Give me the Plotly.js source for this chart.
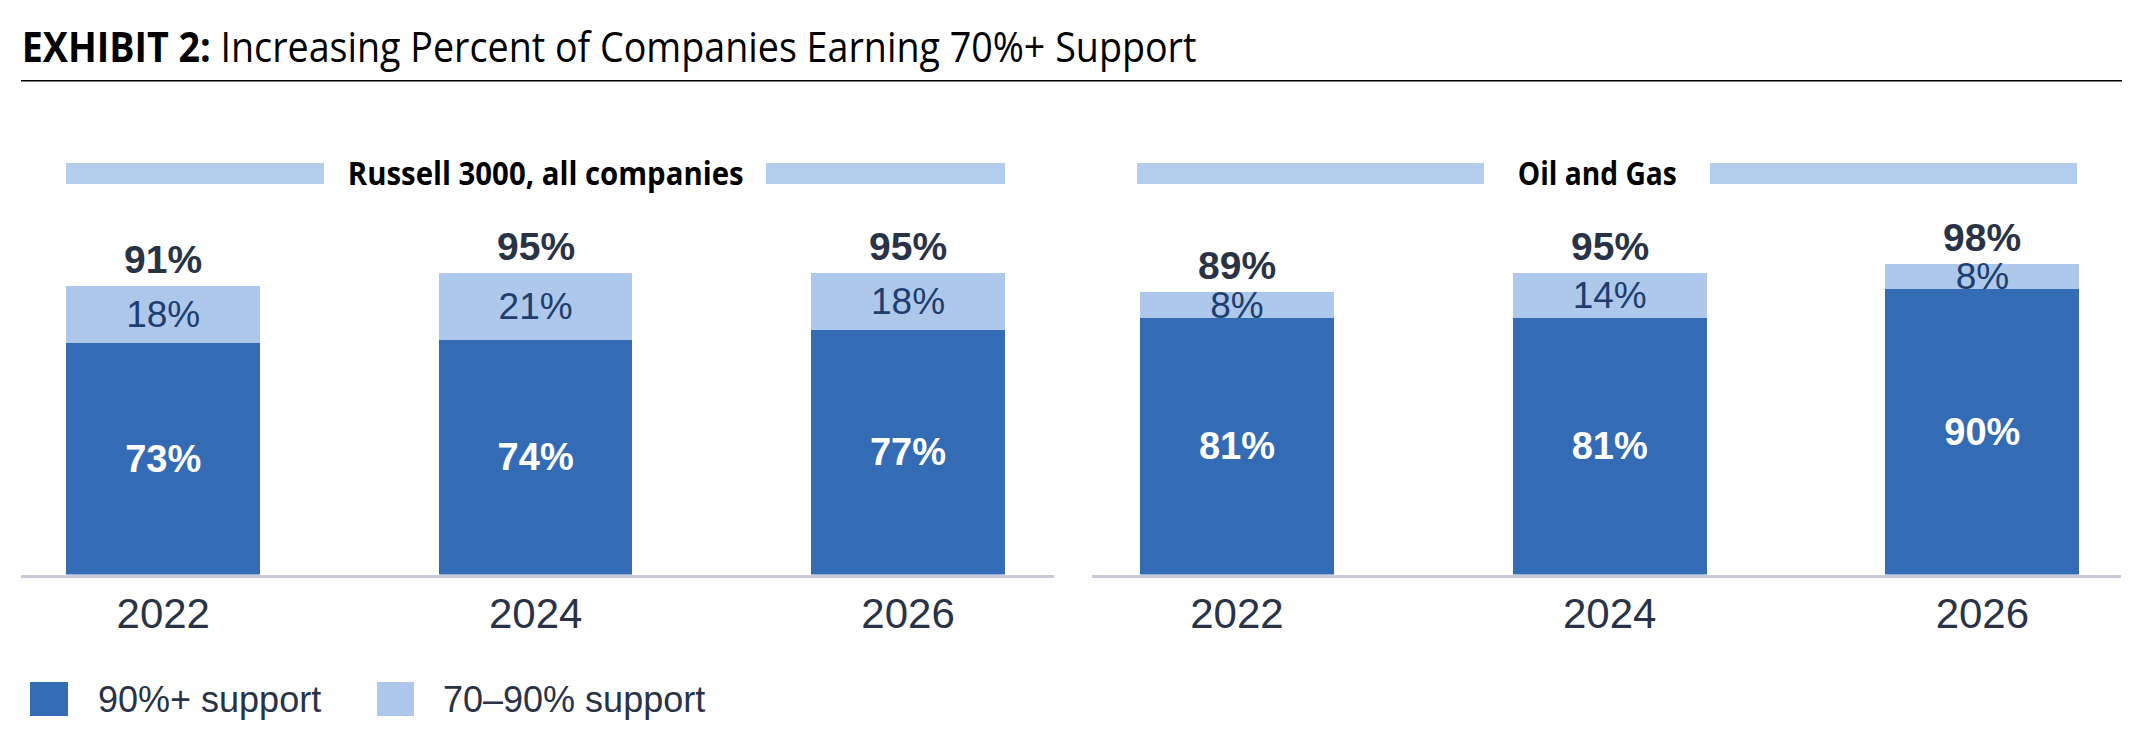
<!DOCTYPE html>
<html>
<head>
<meta charset="utf-8">
<script src="https://cdn.plot.ly/plotly-3.0.1.min.js"></script>
<style>
  html, body { margin: 0; padding: 0; background: #ffffff; }
  #chart { width: 2150px; height: 744px; }
</style>
</head>
<body>
<div id="chart"></div>
<script>
// ---- data ----
const categories = ['2022', '2024', '2026'];
const russellStrong = [73, 74, 77];     // 90%+ support
const russellModerate = [18, 21, 18];   // 70–90% support
const russellTotal = [91, 95, 95];
const oilStrong = [81, 81, 90];
const oilModerate = [8, 14, 8];
const oilTotal = [89, 95, 98];
const panelTitles = ['Russell 3000, all companies', 'Oil and Gas'];
const seriesNames = ['90%+ support', '70–90% support'];
const chartTitle = '<b>EXHIBIT 2:</b> Increasing Percent of Companies Earning 70%+ Support';

// ---- style ----
const W = 2150, H = 744;
const px = x => x / W;
const py = y => (H - y) / H;
const DARK = '#336BB4';
const LIGHT = '#ADC8EA';
const HEADER = '#B3CEEC';
const INK = '#2A3346';
const LIGHT_INK = '#1E3E70';
const NUM_FONT = 'Liberation Sans, Arial, sans-serif';
const HUM_FONT = 'Open Sans, Noto Sans, sans-serif';

const panels = [
  {xa: 'x', ya: 'y', strong: russellStrong, moderate: russellModerate, total: russellTotal},
  {xa: 'x2', ya: 'y2', strong: oilStrong, moderate: oilModerate, total: oilTotal}
];

const traces = [];
panels.forEach(p => {
  traces.push({
    type: 'bar', x: categories, y: p.strong, xaxis: p.xa, yaxis: p.ya,
    name: seriesNames[0], width: 0.52,
    marker: {color: DARK, line: {width: 0}},
    texttemplate: '%{y}%', textposition: 'inside', insidetextanchor: 'middle',
    textangle: 0, constraintext: 'none', cliponaxis: false,
    textfont: {family: NUM_FONT, size: 38, color: '#ffffff', weight: 'bold'},
    hoverinfo: 'skip', showlegend: false
  });
  traces.push({
    type: 'bar', x: categories, y: p.moderate, xaxis: p.xa, yaxis: p.ya,
    name: seriesNames[1], width: 0.52,
    marker: {color: LIGHT, line: {width: 0}},
    texttemplate: '%{y}%', textposition: 'inside', insidetextanchor: 'middle',
    textangle: 0, constraintext: 'none', cliponaxis: false,
    textfont: {family: NUM_FONT, size: 37, color: LIGHT_INK},
    hoverinfo: 'skip', showlegend: false
  });
});

const annotations = [];
panels.forEach(p => {
  categories.forEach((c, i) => {
    annotations.push({
      x: i, y: p.total[i], xref: p.xa, yref: p.ya,
      text: '<b>' + p.total[i] + '%</b>', showarrow: false,
      xanchor: 'center', yanchor: 'bottom', yshift: 3,
      font: {family: NUM_FONT, size: 39, color: INK}
    });
  });
});
// panel headers
annotations.push({x: px(545), y: py(172), xref: 'paper', yref: 'paper', text: '<b>' + panelTitles[0] + '</b>',
  showarrow: false, xanchor: 'center', yanchor: 'middle', font: {family: HUM_FONT, size: 32, color: '#000000'}});
annotations.push({x: px(1597.5), y: py(172), xref: 'paper', yref: 'paper', text: '<b>' + panelTitles[1] + '</b>',
  showarrow: false, xanchor: 'center', yanchor: 'middle', font: {family: HUM_FONT, size: 32, color: '#000000'}});
// legend
annotations.push({x: px(96), y: py(699), xref: 'paper', yref: 'paper', text: seriesNames[0],
  showarrow: false, xanchor: 'left', yanchor: 'middle', font: {family: NUM_FONT, size: 36, color: INK}});
annotations.push({x: px(441), y: py(699), xref: 'paper', yref: 'paper', text: seriesNames[1],
  showarrow: false, xanchor: 'left', yanchor: 'middle', font: {family: NUM_FONT, size: 36, color: INK}});

const rect = (x0, x1, y0, y1, color) => ({type: 'rect', xref: 'paper', yref: 'paper',
  x0: px(x0), x1: px(x1), y0: py(y1), y1: py(y0), fillcolor: color, line: {width: 0}, layer: 'below'});

const shapes = [
  {type: 'line', xref: 'paper', yref: 'paper', x0: px(21), x1: px(2122), y0: py(80.7), y1: py(80.7),
   line: {color: '#000000', width: 1.5}},
  rect(66, 324, 163, 184, HEADER),
  rect(766, 1005, 163, 184, HEADER),
  rect(1137, 1484, 163, 184, HEADER),
  rect(1710, 2077, 163, 184, HEADER),
  rect(30, 68, 682, 716, DARK),
  rect(377, 414, 682, 716, LIGHT)
];

const xBase = {
  type: 'category', showline: true, linecolor: '#C8CCDA', linewidth: 3,
  ticks: '', showgrid: false, zeroline: false, fixedrange: true,
  tickfont: {family: NUM_FONT, size: 42, color: INK}
};
const yBase = {range: [0, 130], visible: false, showgrid: false, zeroline: false, fixedrange: true,
  domain: [py(574.5), py(162.4)]};

const layout = {
  width: W, height: H,
  margin: {l: 0, r: 0, t: 0, b: 0},
  paper_bgcolor: '#ffffff', plot_bgcolor: 'rgba(0,0,0,0)',
  barmode: 'stack',
  showlegend: false,
  title: {text: chartTitle, x: px(21.7), xanchor: 'left', xref: 'paper',
          y: py(47), yanchor: 'middle', yref: 'container',
          font: {family: HUM_FONT, size: 42, color: '#000000'}},
  xaxis: Object.assign({}, xBase, {domain: [px(21), px(1054)], range: [-0.382, 2.392], anchor: 'y'}),
  xaxis2: Object.assign({}, xBase, {domain: [px(1092), px(2121)], range: [-0.389, 2.372], anchor: 'y2'}),
  yaxis: Object.assign({}, yBase, {anchor: 'x'}),
  yaxis2: Object.assign({}, yBase, {anchor: 'x2'}),
  annotations: annotations,
  shapes: shapes
};

Plotly.newPlot('chart', traces, layout, {displayModeBar: false, staticPlot: true}).then(gd => {
  // condense the humanist-font texts horizontally to the reference widths
  const fit = (el, width, anchor) => {
    if (!el) return;
    const bb = el.getBBox();
    if (!bb.width) return;
    const k = width / bb.width;
    const ox = anchor === 'start' ? bb.x : bb.x + bb.width / 2;
    el.setAttribute('transform', 'matrix(' + k + ',0,0,1,' + (ox * (1 - k)) + ',0)');
  };
  fit(gd.querySelector('.gtitle'), 1175, 'start');
  gd.querySelectorAll('.annotation-text').forEach(t => {
    if (t.textContent === panelTitles[0]) fit(t, 396, 'middle');
    if (t.textContent === panelTitles[1]) fit(t, 159, 'middle');
  });
});
</script>
</body>
</html>
